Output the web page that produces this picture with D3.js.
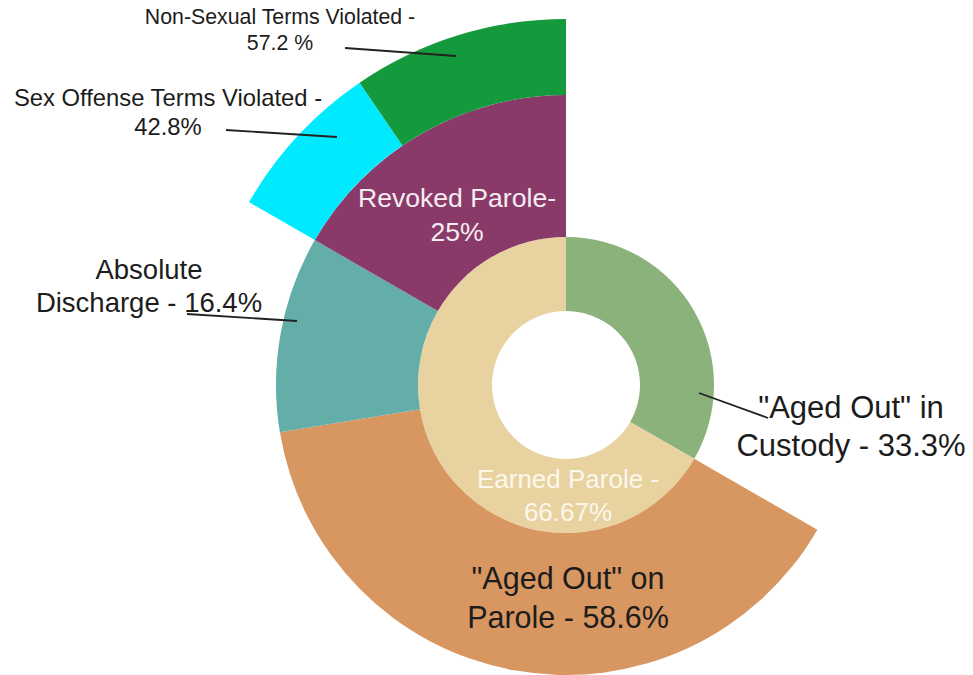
<!DOCTYPE html>
<html>
<head>
<meta charset="utf-8">
<script src="https://cdn.jsdelivr.net/npm/d3@7"></script>
<style>
  body { margin: 0; background: #fff; }
  svg { display: block; font-family: "Liberation Sans", Arial, sans-serif; }
</style>
</head>
<body>
<svg id="chart" width="973" height="675"></svg>
<script>
// ── DATA ──────────────────────────────────────────────────────
// Ring 1: outcome of every case
const outcomeLabels = ['"Aged Out" in Custody', "Earned Parole"];
const outcomeValues = [33.3, 66.67];

// Ring 2: what happened after earned parole (% of Earned Parole)
const paroleLabels = ['"Aged Out" on Parole', "Absolute Discharge", "Revoked Parole"];
const paroleValues = [58.6, 16.4, 25];

// Ring 3: why parole was revoked (% of Revoked Parole)
const revokedLabels = ["Sex Offense Terms Violated", "Non-Sexual Terms Violated"];
const revokedValues = [42.8, 57.2];

// ── SETUP ─────────────────────────────────────────────────────
const width = 973;
const height = 675;
const cx = 566;
const cy = 385;

const svg = d3.select("#chart");

const colors = d3.scaleOrdinal()
  .domain([...outcomeLabels, ...paroleLabels, ...revokedLabels])
  .range(["#8bb27a", "#e8d3a0", "#d89660", "#63aea9", "#8a3a68", "#00eaff", "#149a3c"]);

// child share of its parent, in the parent's units
const share = (parentValue, pct) => parentValue * pct / 100;

const earnedValue = outcomeValues[1];
const revokedValue = share(earnedValue, paroleValues[2]);

const tree = {
  name: "root",
  children: [
    { name: outcomeLabels[0], value: outcomeValues[0] },
    {
      name: outcomeLabels[1],
      children: paroleLabels.map((name, i) => name === "Revoked Parole"
        ? {
            name,
            children: revokedLabels.map((n, j) => ({ name: n, value: share(revokedValue, revokedValues[j]) }))
          }
        : { name, value: share(earnedValue, paroleValues[i]) })
    }
  ]
};

const root = d3.hierarchy(tree).sum(d => d.value || 0);
d3.partition().size([2 * Math.PI, 4])(root);

// depth -> radius (rings have different thickness)
const rScale = d3.scaleLinear()
  .domain([1, 2, 3, 4])
  .range([74, 148, 290, 366]);

const arc = d3.arc()
  .startAngle(d => d.x0)
  .endAngle(d => d.x1)
  .innerRadius(d => rScale(d.y0))
  .outerRadius(d => rScale(d.y1));

// ── DRAW RINGS ────────────────────────────────────────────────
svg.append("g")
  .attr("transform", `translate(${cx}, ${cy})`)
  .selectAll("path")
  .data(root.descendants().filter(d => d.depth > 0))
  .join("path")
    .attr("d", arc)
    .attr("fill", d => colors(d.data.name));

// ── LABELS ────────────────────────────────────────────────────
const annotations = [
  { lines: ["Non-Sexual Terms Violated -", "57.2 %"], x: 280, y: 24, lh: 26, size: 21.3, fill: "#1c1c1c",
    leader: [345, 48, 456, 56] },
  { lines: ["Sex Offense Terms Violated -", "42.8%"], x: 168, y: 106, lh: 29, size: 23.8, fill: "#1c1c1c",
    leader: [226, 130, 337, 137] },
  { lines: ["Absolute", "Discharge - 16.4%"], x: 149, y: 279, lh: 33, size: 27.5, fill: "#1c1c1c",
    leader: [187, 314, 297, 321] },
  { lines: ["Revoked Parole-", "25%"], x: 457, y: 207, lh: 34, size: 26.6, fill: "#f4ecf1" },
  { lines: ["Earned Parole -", "66.67%"], x: 568, y: 488, lh: 33, size: 26, fill: "#fcf7ec" },
  { lines: ['"Aged Out" in', "Custody - 33.3%"], x: 851, y: 418, lh: 38, size: 31, fill: "#1c1c1c",
    leader: [699, 393, 768, 418] },
  { lines: ['"Aged Out" on', "Parole - 58.6%"], x: 568, y: 589, lh: 39, size: 30.5, fill: "#1c1c1c" }
];

const labels = svg.append("g").attr("class", "labels");

annotations.forEach(a => {
  if (a.leader) {
    labels.append("line")
      .attr("x1", a.leader[0])
      .attr("y1", a.leader[1])
      .attr("x2", a.leader[2])
      .attr("y2", a.leader[3])
      .attr("stroke", "#222")
      .attr("stroke-width", 1.8);
  }

  const text = labels.append("text")
    .attr("text-anchor", "middle")
    .attr("fill", a.fill)
    .style("font-size", `${a.size}px`);

  a.lines.forEach((line, i) => {
    text.append("tspan")
      .attr("x", a.x)
      .attr("y", a.y + i * a.lh)
      .text(line);
  });
});
</script>
</body>
</html>
